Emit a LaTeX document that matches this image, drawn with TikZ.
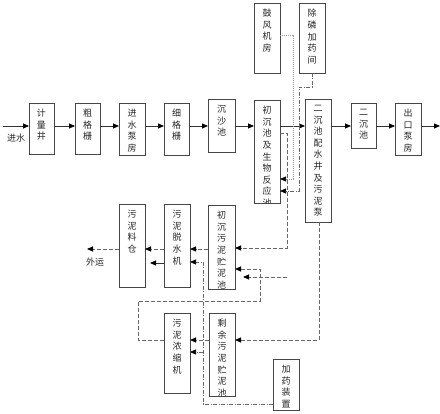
\documentclass[tikz,border=0pt]{standalone}
\usepackage{fontspec}
\newfontfamily\cjk{Noto Sans CJK SC}
\usetikzlibrary{arrows.meta,fit}
\newcommand\bx[6]{%
  \node[box,fit={(#2,#3) (#4,#5)}] (#1) {};
  \begin{scope}
    \clip (#2,#3) rectangle (#4,#5);
    \node[vtxt] (#1-t) at ([yshift=-6pt]#1.north) {#6};
  \end{scope}}
\begin{document}
\begin{tikzpicture}[x=1pt,y=-1pt,
  box/.style={draw=black!72,line width=0.9pt,inner sep=0pt,outer sep=0pt},
  vtxt/.style={font=\cjk\fontsize{9}{11.6}\selectfont,align=center,inner sep=0pt,anchor=north,text=black!85},
  lbl/.style={font=\cjk\fontsize{9}{11}\selectfont,inner sep=0pt,text=black!85},
  tip/.style={-{Triangle[length=6pt,width=5pt,color=black]}},
  flow/.style={draw=black!80,line width=0.8pt,tip},
  sl/.style={draw=black!60,line width=0.8pt,dash pattern=on 4pt off 2pt,tip},
  dd/.style={draw=black!60,line width=0.7pt,dash pattern=on 4pt off 1.5pt on 1pt off 1.5pt,tip},
  dt/.style={draw=black!40,line width=0.7pt,dash pattern=on 1pt off 1pt,tip}]
\useasboundingbox (0,0) rectangle (440,414);
\fill[white] (0,0) rectangle (440,414);
% boxes
\bx{jlj}{29}{103}{54}{154}{计\\量\\井}
\bx{cgs}{75}{103}{100}{154}{粗\\格\\栅}
\bx{jsbf}{119}{103}{145}{155}{进\\水\\泵\\房}
\bx{xgs}{164}{103}{189}{155}{细\\格\\栅}
\bx{csc}{208}{99}{235}{152}{沉\\沙\\池}
\bx{ccc}{254}{100}{280}{203}{初\\沉\\池\\及\\生\\物\\反\\应\\池}
\bx{gfj}{254}{3}{280}{73}{鼓\\风\\机\\房}
\bx{clj}{299}{3}{325}{73}{除\\磷\\加\\药\\间}
\bx{pss}{305}{99}{331}{222}{二\\沉\\池\\配\\水\\井\\及\\污\\泥\\泵}
\bx{ecc}{351}{103}{376}{148}{二\\沉\\池}
\bx{ckbf}{395}{103}{421}{155}{出\\口\\泵\\房}
\bx{ccwn}{208}{205}{235}{289}{初\\沉\\污\\泥\\贮\\泥\\池}
\bx{wntsj}{164}{204}{190}{287}{污\\泥\\脱\\水\\机}
\bx{wnlc}{119}{204}{145}{287}{污\\泥\\料\\仓}
\bx{synn}{209}{313}{235}{396}{剩\\余\\污\\泥\\贮\\泥\\池}
\bx{wnns}{164}{313}{190}{393}{污\\泥\\浓\\缩\\机}
\bx{jyzz}{273}{359}{299}{410}{加\\药\\装\\置}
% labels
\node[lbl] (jinshui) at (16,138) {进水};
\node[lbl] (waiyun) at (95,262) {外运};
% main flow
\coordinate (m) at (0,126);
\coordinate (in) at (3,126);
\coordinate (out) at (440,126);
\draw[flow] (in) -- (jlj.west |- m);
\draw[flow] (jlj.east |- m) -- (cgs.west |- m);
\draw[flow] (cgs.east |- m) -- (jsbf.west |- m);
\draw[flow] (jsbf.east |- m) -- (xgs.west |- m);
\draw[flow] (xgs.east |- m) -- (csc.west |- m);
\draw[flow] (csc.east |- m) -- (ccc.west |- m);
\draw[flow] (ccc.east |- m) -- (pss.west |- m);
\draw[flow] (pss.east |- m) -- (ecc.west |- m);
\draw[flow] (ecc.east |- m) -- (ckbf.west |- m);
\draw[flow] (ckbf.east |- m) -- (out);
% air and chemicals to bio reactor
\draw[dt] (gfj.east |- 0,35) -- (293,35) -- (293,179) -- (ccc.east |- 0,179);
\draw[dd] (clj.south -| 312,0) -- (312,87) -- (299,87) -- (299,191) -- (ccc.east |- 0,191);
% sludge lines
\draw[sl] (ccc.east |- 0,133) -- (287,133) -- (287,248) -- (ccwn.east |- 0,248);
\coordinate (free) at (287,277);
\draw[sl] (free) -- (243,277);
\draw[sl] (wnns.west |- 0,340) -- (138,340) -- (138,301) -- (260,301) -- (260,269) -- (ccwn.east |- 0,269);
\draw[sl] (pss.south -| 319,0) -- (319,340) -- (synn.east |- 0,340);
\draw[sl] (synn.west |- 0,340) -- (wnns.east |- 0,340);
\draw[dd] (jyzz.west |- 0,404) -- (203,404) -- (203,262) -- (wntsj.east |- 0,262);
\draw[dd] (203,352) -- (wnns.east |- 0,352);
\draw[sl] (ccwn.west |- 0,249) -- (wntsj.east |- 0,249);
\draw[sl] (wntsj.west |- 0,249) -- (wnlc.east |- 0,249);
\coordinate (stub) at (150,263);
\draw[flow] (wntsj.west |- 0,263) -- (stub);
\coordinate (wy) at (87,249);
\draw[sl] (wnlc.west |- 0,249) -- (wy);
\end{tikzpicture}
\end{document}
